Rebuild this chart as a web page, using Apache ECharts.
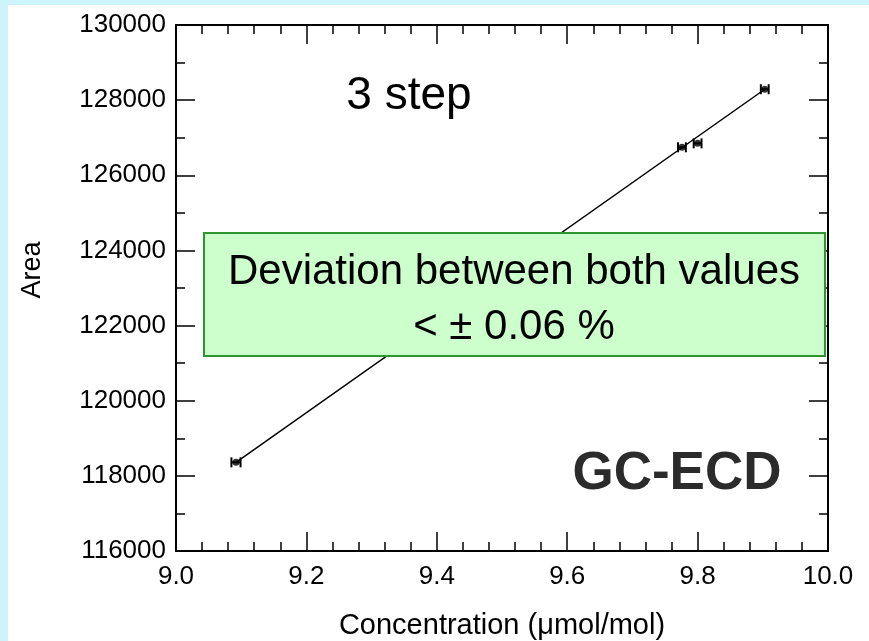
<!DOCTYPE html>
<html>
<head>
<meta charset="utf-8">
<script src="https://cdn.jsdelivr.net/npm/echarts@6/dist/echarts.min.js"></script>
<style>
  html, body { margin: 0; padding: 0; background: #cdf3fb; }
  #chart { width: 869px; height: 641px; }
</style>
</head>
<body>
<div id="chart"></div>
<script>
// Measured calibration points: concentration (µmol/mol) vs. peak area
var concentration = [9.092, 9.776, 9.800, 9.903];
var area = [118360, 126745, 126850, 128290];
var concError = [0.007, 0.006, 0.006, 0.006];

// Regression line end points
var fitConcentration = [9.092, 9.903];
var fitArea = [118360, 128290];

var FONT = 'Liberation Sans, Arial, sans-serif';

var points = concentration.map(function (c, i) { return [c, area[i], concError[i]]; });
var fitLine = fitConcentration.map(function (c, i) { return [c, fitArea[i]]; });

var chart = echarts.init(document.getElementById('chart'), null, { renderer: 'canvas' });

function axisCommon(showLabel) {
  return {
    axisLine: { show: true, onZero: false, lineStyle: { color: '#000', width: 2 } },
    axisTick: { show: true, inside: true, length: 19, lineStyle: { color: '#000', width: 1.5 } },
    minorTick: { show: true, length: 9, lineStyle: { color: '#000', width: 1.5 } },
    splitLine: { show: false },
    axisLabel: { show: showLabel }
  };
}

var xBottom = Object.assign(axisCommon(true), {
  type: 'value', position: 'bottom', min: 9, max: 10, interval: 0.2,
  name: 'Concentration (\u03bcmol/mol)', nameLocation: 'middle', nameGap: 60,
  nameTextStyle: { fontFamily: FONT, fontSize: 29, color: '#000' }
});
xBottom.minorTick.splitNumber = 5;
xBottom.axisLabel = { show: true, margin: 13, fontFamily: FONT, fontSize: 26, color: '#000',
  formatter: function (v) { return v.toFixed(1); } };

var xTop = Object.assign(axisCommon(false), {
  type: 'value', position: 'top', min: 9, max: 10, interval: 0.2
});
xTop.minorTick.splitNumber = 5;

var yLeft = Object.assign(axisCommon(true), {
  type: 'value', position: 'left', min: 116000, max: 130000, interval: 2000
});
yLeft.minorTick.splitNumber = 2;
yLeft.axisLabel = { show: true, margin: 10, fontFamily: FONT, fontSize: 26, color: '#000',
  formatter: function (v) { return String(v); } };

var yRight = Object.assign(axisCommon(false), {
  type: 'value', position: 'right', min: 116000, max: 130000, interval: 2000
});
yRight.minorTick.splitNumber = 2;

chart.setOption({
  backgroundColor: '#cdf3fb',
  animation: false,
  grid: { left: 176, top: 25, right: 41, bottom: 90, containLabel: false, outerBoundsMode: 'none' },
  xAxis: [xBottom, xTop],
  yAxis: [yLeft, yRight],
  graphic: [
    { type: 'rect', z: -10, silent: true,
      shape: { x: 8, y: 5, width: 869, height: 641 },
      style: { fill: '#ffffff' } },
    { type: 'text', z: 100, x: 33, y: 270, rotation: Math.PI / 2,
      style: { text: 'Area', font: '27px ' + FONT, fill: '#000',
               align: 'center', verticalAlign: 'middle' } },
    { type: 'text', z: 100, x: 409, y: 96,
      style: { text: '3 step', font: '46px ' + FONT, fill: '#000',
               align: 'center', verticalAlign: 'middle' } },
    { type: 'rect', z: 100,
      shape: { x: 204, y: 233, width: 621, height: 123 },
      style: { fill: '#ccffcc', stroke: '#2e962e', lineWidth: 2 } },
    { type: 'text', z: 101, x: 514, y: 272,
      style: { text: 'Deviation between both values', font: '42px ' + FONT, fill: '#000',
               align: 'center', verticalAlign: 'middle' } },
    { type: 'text', z: 101, x: 514, y: 327,
      style: { text: '< \u00b1 0.06 %', font: '42px ' + FONT, fill: '#000',
               align: 'center', verticalAlign: 'middle' } },
    { type: 'text', z: 100, x: 677, y: 474,
      style: { text: 'GC-ECD', font: 'bold 53px ' + FONT, fill: '#2b2b2b',
               align: 'center', verticalAlign: 'middle' } }
  ],
  series: [
    {
      type: 'line', data: fitLine, showSymbol: false, z: 2,
      lineStyle: { color: '#000', width: 1.5 }
    },
    {
      type: 'custom', z: 3,
      data: points,
      renderItem: function (params, api) {
        var c = api.value(0), a = api.value(1), e = api.value(2);
        var p0 = api.coord([c - e, a]);
        var p1 = api.coord([c + e, a]);
        var h = 5;
        var st = { stroke: '#000', lineWidth: 2 };
        return {
          type: 'group',
          children: [
            { type: 'line', shape: { x1: p0[0], y1: p0[1], x2: p1[0], y2: p1[1] }, style: st },
            { type: 'line', shape: { x1: p0[0], y1: p0[1] - h, x2: p0[0], y2: p0[1] + h }, style: st },
            { type: 'line', shape: { x1: p1[0], y1: p1[1] - h, x2: p1[0], y2: p1[1] + h }, style: st }
          ]
        };
      }
    },
    {
      type: 'scatter', data: points, symbol: 'circle', symbolSize: 7, z: 4,
      itemStyle: { color: '#000' }
    }
  ]
});
</script>
</body>
</html>
